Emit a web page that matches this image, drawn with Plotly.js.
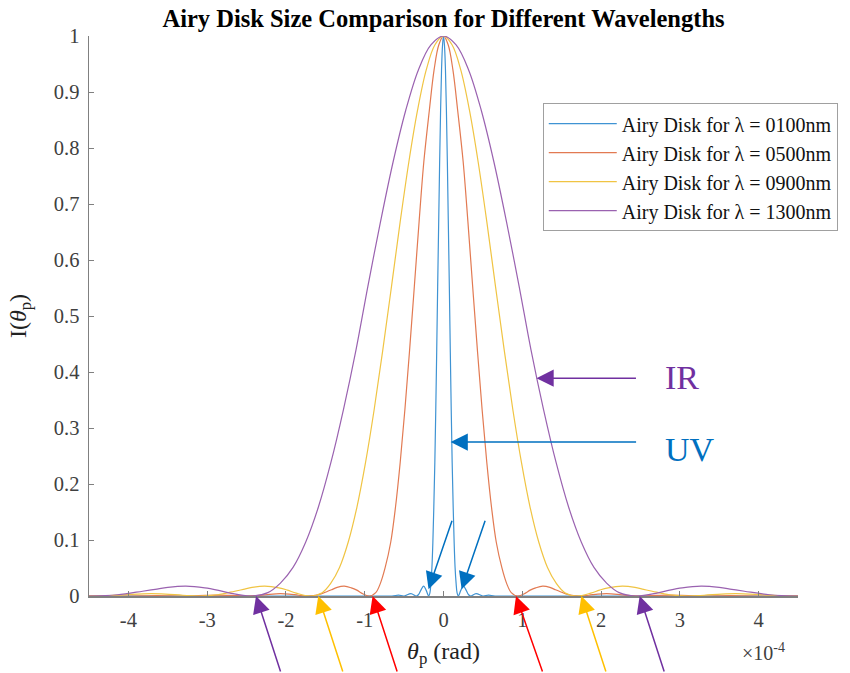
<!DOCTYPE html>
<html><head><meta charset="utf-8">
<script src="https://cdn.plot.ly/plotly-3.0.1.min.js"></script>
<style>html,body{margin:0;padding:0;background:#fff}#chart{width:850px;height:673px}</style>
</head><body><div id="chart"></div>
<script>
// angle in units of 1e-4 rad
const theta100 = [-4.5, -1, -0.654, -0.57, -0.5, -0.413, -0.345, -0.319, -0.282, -0.252, -0.221, -0.188, -0.172, -0.16, -0.147, -0.135, -0.123, -0.11, -0.098, -0.086, -0.074, -0.061, -0.049, -0.037, -0.025, -0.012,
  0, 0.012, 0.025, 0.037, 0.049, 0.061, 0.074, 0.086, 0.098, 0.11, 0.123, 0.135, 0.147, 0.16, 0.172, 0.188, 0.221, 0.252, 0.282, 0.319, 0.345, 0.413, 0.5, 0.57, 0.654, 1, 4.5];
const intensity100 = [0, 0, 0, 0.0016, 0, 0.0042, 0, 0.0022, 0.0119, 0.0175, 0.0105, 0, 0.006, 0.023, 0.051, 0.096, 0.158, 0.238, 0.333, 0.44, 0.553, 0.668, 0.775, 0.867, 0.939, 0.984,
  1, 0.984, 0.939, 0.867, 0.775, 0.668, 0.553, 0.44, 0.333, 0.238, 0.158, 0.096, 0.051, 0.023, 0.006, 0, 0.0105, 0.0175, 0.0119, 0.0022, 0, 0.0042, 0, 0.0016, 0, 0, 0];

const theta500 = [-4.5, -4.42, -4.04, -3.63, -3.27, -3.02, -2.85, -2.7, -2.5, -2.33, -2.21, -2.07, -1.96, -1.84, -1.72, -1.59, -1.47, -1.41, -1.35, -1.26, -1.17, -1.1, -1.04, -0.94, -0.86, -0.8, -0.74, -0.67, -0.61, -0.55, -0.49, -0.43, -0.37, -0.31, -0.25, -0.18, -0.12, -0.06,
  0, 0.06, 0.12, 0.18, 0.25, 0.31, 0.37, 0.43, 0.49, 0.55, 0.61, 0.67, 0.74, 0.8, 0.86, 0.94, 1.04, 1.1, 1.17, 1.26, 1.35, 1.41, 1.47, 1.59, 1.72, 1.84, 1.96, 2.07, 2.21, 2.33, 2.5, 2.7, 2.85, 3.02, 3.27, 3.63, 4.04, 4.42, 4.5];
const intensity500 = [0.0003, 0.0004, 0, 0.0008, 0, 0.0011, 0.0016, 0.001, 0, 0.0012, 0.003, 0.0042, 0.0034, 0.0013, 0, 0.0022, 0.0085, 0.0119, 0.0154, 0.0175, 0.0146, 0.0105, 0.0051, 0, 0.006, 0.023, 0.051, 0.096, 0.158, 0.238, 0.333, 0.44, 0.553, 0.668, 0.775, 0.867, 0.939, 0.984,
  1, 0.984, 0.939, 0.867, 0.775, 0.668, 0.553, 0.44, 0.333, 0.238, 0.158, 0.096, 0.051, 0.023, 0.006, 0, 0.0051, 0.0105, 0.0146, 0.0175, 0.0154, 0.0119, 0.0085, 0.0022, 0, 0.0013, 0.0034, 0.0042, 0.003, 0.0012, 0, 0.001, 0.0016, 0.0011, 0, 0.0008, 0, 0.0004, 0.0003];

const theta900 = [-4.5, -4.19, -3.97, -3.71, -3.53, -3.31, -3.1, -2.87, -2.65, -2.54, -2.43, -2.27, -2.09, -1.98, -1.87, -1.69, -1.54, -1.43, -1.32, -1.21, -1.1, -0.99, -0.88, -0.77, -0.66, -0.55, -0.44, -0.33, -0.22, -0.11,
  0, 0.11, 0.22, 0.33, 0.44, 0.55, 0.66, 0.77, 0.88, 0.99, 1.1, 1.21, 1.32, 1.43, 1.54, 1.69, 1.87, 1.98, 2.09, 2.27, 2.43, 2.54, 2.65, 2.87, 3.1, 3.31, 3.53, 3.71, 3.97, 4.19, 4.5];
const intensity900 = [0, 0.0012, 0.003, 0.0042, 0.0034, 0.0013, 0, 0.0022, 0.0085, 0.0119, 0.0154, 0.0175, 0.0146, 0.0105, 0.0051, 0, 0.006, 0.023, 0.051, 0.096, 0.158, 0.238, 0.333, 0.44, 0.553, 0.668, 0.775, 0.867, 0.939, 0.984,
  1, 0.984, 0.939, 0.867, 0.775, 0.668, 0.553, 0.44, 0.333, 0.238, 0.158, 0.096, 0.051, 0.023, 0.006, 0, 0.0051, 0.0105, 0.0146, 0.0175, 0.0154, 0.0119, 0.0085, 0.0022, 0, 0.0013, 0.0034, 0.0042, 0.003, 0.0012, 0];

const theta1300 = [-4.5, -4.14, -3.82, -3.66, -3.5, -3.27, -3.03, -2.87, -2.71, -2.44, -2.23, -2.07, -1.91, -1.75, -1.59, -1.43, -1.27, -1.11, -0.96, -0.8, -0.64, -0.48, -0.32, -0.16,
  0, 0.16, 0.32, 0.48, 0.64, 0.8, 0.96, 1.11, 1.27, 1.43, 1.59, 1.75, 1.91, 2.07, 2.23, 2.44, 2.71, 2.87, 3.03, 3.27, 3.5, 3.66, 3.82, 4.14, 4.5];
const intensity1300 = [0, 0.0022, 0.0085, 0.0119, 0.0154, 0.0175, 0.0146, 0.0105, 0.0051, 0, 0.006, 0.023, 0.051, 0.096, 0.158, 0.238, 0.333, 0.44, 0.553, 0.668, 0.775, 0.867, 0.939, 0.984,
  1, 0.984, 0.939, 0.867, 0.775, 0.668, 0.553, 0.44, 0.333, 0.238, 0.158, 0.096, 0.051, 0.023, 0.006, 0, 0.0051, 0.0105, 0.0146, 0.0175, 0.0154, 0.0119, 0.0085, 0.0022, 0];

const seriesNames = ['Airy Disk for λ = 0100nm', 'Airy Disk for λ = 0500nm', 'Airy Disk for λ = 0900nm', 'Airy Disk for λ = 1300nm'];
const xTicks = [-4, -3, -2, -1, 0, 1, 2, 3, 4];
const xTickLabels = ['-4', '-3', '-2', '-1', '0', '1', '2', '3', '4'];
const yTicks = [0, 0.1, 0.2, 0.3, 0.4, 0.5, 0.6, 0.7, 0.8, 0.9, 1];
const yTickLabels = ['0', '0.1', '0.2', '0.3', '0.4', '0.5', '0.6', '0.7', '0.8', '0.9', '1'];

const serif = 'Liberation Serif, Times New Roman, serif';
const colors = ['#3f93d3', '#e27a52', '#f0c443', '#9a62b0'];
const xs = [theta100, theta500, theta900, theta1300];
const ys = [intensity100, intensity500, intensity900, intensity1300];

const traces = xs.map((x, i) => ({
  x: x, y: ys[i], name: seriesNames[i], type: 'scatter', mode: 'lines',
  line: {color: colors[i], width: 1.2, shape: 'spline', smoothing: 1}
}));

function arrow(x, y, ax, ay, color) {
  return {x: x, y: y, xref: 'x', yref: 'y', ax: ax, ay: ay, text: '', showarrow: true,
    arrowhead: 2, arrowsize: 2.3, arrowwidth: 1.5, arrowcolor: color, standoff: 0};
}
const PURPLE = '#7030A0', BLUE = '#0070C0', YELLOW = '#FFC000', RED = '#FF0000';

const layout = {
  width: 850, height: 673,
  margin: {l: 89, r: 50, t: 36, b: 77},
  paper_bgcolor: '#fff', plot_bgcolor: '#fff',
  showlegend: true,
  title: {text: '<b>Airy Disk Size Comparison for Different Wavelengths</b>',
    font: {family: serif, size: 24.5, color: '#000'},
    x: 0.5, xref: 'paper', xanchor: 'center', y: 0.973, yref: 'container', yanchor: 'middle'},
  xaxis: {range: [-4.5, 4.5], tickvals: xTicks, ticktext: xTickLabels, ticks: 'inside', ticklen: 5, tickcolor: '#808080',
    showline: true, linecolor: '#808080', linewidth: 1.5, showgrid: false, zeroline: false,
    ticklabelstandoff: 5,
    tickfont: {family: serif, size: 20.5, color: '#404040'},
    title: {text: '<i>θ</i><sub>p</sub> (rad)', font: {family: serif, size: 24, color: '#222'}, standoff: 12}},
  yaxis: {range: [0, 1], tickvals: yTicks, ticktext: yTickLabels, ticks: 'inside', ticklen: 5, tickcolor: '#808080',
    showline: true, linecolor: '#808080', linewidth: 1.5, showgrid: false, zeroline: false,
    ticklabelstandoff: 4,
    tickfont: {family: serif, size: 20.5, color: '#404040'},
    title: {text: 'I(<i>θ</i><sub>p</sub>)', font: {family: serif, size: 24, color: '#222'}, standoff: 20}},
  legend: {x: 0.64, y: 0.88, xanchor: 'left', yanchor: 'top', bgcolor: '#fff',
    bordercolor: '#a0a0a0', borderwidth: 1, font: {family: serif, size: 20, color: '#111'}, itemwidth: 68},
  annotations: [
    {xref: 'paper', yref: 'paper', x: 0.951, y: -0.1, text: '×10<sup>-4</sup>', showarrow: false,
      font: {family: serif, size: 20, color: '#404040'}, xanchor: 'center', yanchor: 'middle'},
    {xref: 'x', yref: 'y', x: 3.03, y: 0.391, text: 'IR', showarrow: false,
      font: {family: serif, size: 34, color: PURPLE}, xanchor: 'center', yanchor: 'middle'},
    {xref: 'x', yref: 'y', x: 3.13, y: 0.261, text: 'UV', showarrow: false,
      font: {family: serif, size: 34, color: BLUE}, xanchor: 'center', yanchor: 'middle'},
    arrow(1.18, 0.389, 101, 0, PURPLE),
    arrow(0.09, 0.275, 187, 0, BLUE),
    arrow(-0.19, 0.012, 24, -70, BLUE),
    arrow(0.23, 0.012, 24, -70, BLUE),
    arrow(-2.38, 0, 25, 80, PURPLE),
    arrow(-1.59, 0, 25, 80, YELLOW),
    arrow(-0.9, 0, 25, 80, RED),
    arrow(0.92, 0, 27, 80, RED),
    arrow(1.75, 0, 25, 80, YELLOW),
    arrow(2.49, 0, 25, 80, PURPLE)
  ]
};

Plotly.newPlot('chart', traces, layout, {displayModeBar: false, staticPlot: true});
</script></body></html>
